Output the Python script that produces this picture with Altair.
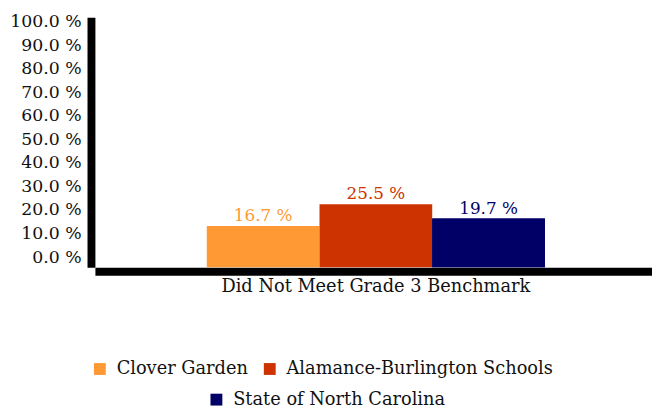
import altair as alt
import pandas as pd

category = "Did Not Meet Grade 3 Benchmark"
series = ["Clover Garden", "Alamance-Burlington Schools", "State of North Carolina"]
values = [16.7, 25.5, 19.7]
colors = ["#FF9933", "#CC3300", "#000066"]
y_ticks = [0, 10, 20, 30, 40, 50, 60, 70, 80, 90, 100]

FONT = "DejaVu Serif"

df = pd.DataFrame({"category": [category] * 3, "series": series, "value": values})
ticks_df = pd.DataFrame({"tick": y_ticks})

base = alt.Chart(df).transform_calculate(
    label="format(datum.value, '.1f') + ' %'"
)

x_enc = alt.X(
    "category:N",
    title=None,
    scale=alt.Scale(paddingInner=0, paddingOuter=0.3237, align=0.511),
    axis=alt.Axis(
        domain=True, domainColor="black", domainWidth=8, offset=4,
        ticks=False, tickSize=0, labelAngle=0, labelFont=FONT,
        labelFontSize=18, labelColor="#111111", labelPadding=7,
        labelBaseline="top", labelLimit=0,
    ),
)
xo_enc = alt.XOffset("series:N", sort=series, scale=alt.Scale(paddingInner=0, paddingOuter=0))
y_scale = alt.Scale(domain=[0, 101], nice=False, zero=True)

bars = base.mark_bar().encode(
    x=x_enc,
    xOffset=xo_enc,
    y=alt.Y(
        "value:Q", scale=y_scale, title=None,
        axis=alt.Axis(
            orient="left", domain=True, domainColor="black", domainWidth=8,
            offset=4, labels=False, ticks=False, tickSize=0, grid=False,
            values=y_ticks,
        ),
    ),
    color=alt.Color(
        "series:N",
        sort=series,
        scale=alt.Scale(domain=series, range=colors),
        legend=alt.Legend(
            values=series[:2], title=None, orient="none", direction="horizontal",
            legendX=-4, legendY=347, symbolType="square", symbolSize=144,
            symbolStrokeWidth=0, labelFont=FONT, labelFontSize=18,
            labelColor="#111111", labelOffset=8, columnPadding=13, padding=0,
            labelLimit=0,
        ),
    ),
)

nc_bar = base.transform_filter(alt.datum.series == series[2]).mark_bar().encode(
    x=x_enc,
    xOffset=xo_enc,
    y=alt.Y("value:Q", scale=y_scale, axis=None),
    fill=alt.Fill(
        "series:N",
        scale=alt.Scale(domain=[series[2]], range=[colors[2]]),
        legend=alt.Legend(
            title=None, orient="none", direction="horizontal",
            legendX=114, legendY=378, symbolType="square", symbolSize=144,
            symbolStrokeWidth=0, labelFont=FONT, labelFontSize=18,
            labelColor="#111111", labelOffset=8, padding=0, labelLimit=0,
        ),
    ),
)

labels = base.mark_text(baseline="bottom", dy=-1, font=FONT, fontSize=17).encode(
    x=x_enc,
    xOffset=xo_enc,
    y=alt.Y("value:Q", scale=y_scale, axis=None),
    text="label:N",
    color=alt.Color("series:N", sort=series, legend=None),
)

tick_axis = alt.Chart(ticks_df).mark_point(opacity=0).encode(
    y=alt.Y(
        "tick:Q", title=None,
        scale=alt.Scale(domain=[-4.29, 101.8], nice=False, zero=False),
        axis=alt.Axis(
            orient="left", domain=False, ticks=False, tickSize=0, grid=False,
            values=y_ticks, labelExpr="format(datum.value, '.1f') + ' %'",
            labelFont=FONT, labelFontSize=17.5, labelColor="#111111",
            labelPadding=14, labelBaseline="middle", labelLimit=0,
        ),
    ),
)

chart = alt.layer(bars, nc_bar, labels, tick_axis).resolve_scale(
    y="independent"
).properties(
    width=564,
    height=253,
    autosize=alt.AutoSizeParams(type="none"),
    padding={"left": 88, "top": 7, "right": 0, "bottom": 140},
    background="white",
).configure_view(stroke=None)

chart.save("out.html", embed_options={"renderer": "svg", "actions": False})
